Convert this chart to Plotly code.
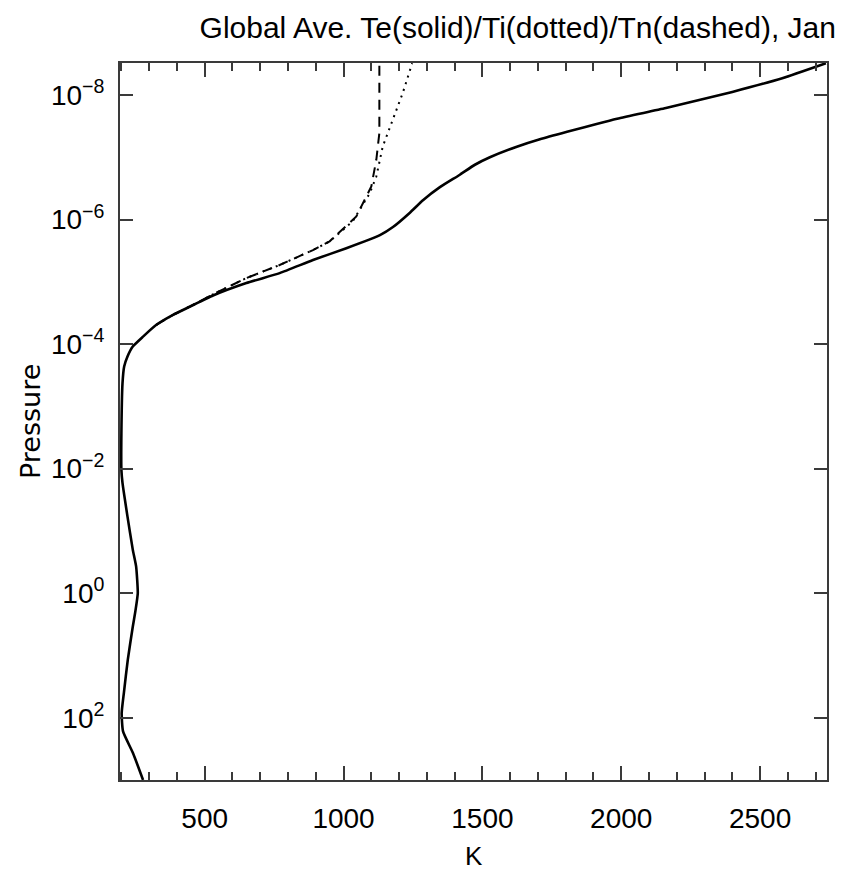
import plotly.graph_objects as go

# ---- data ----
te_K = [2737, 2580, 2400, 2161, 1985, 1805, 1707, 1624, 1527, 1473, 1419, 1347, 1286, 1239, 1178, 1131,
        1010, 890, 770, 650, 530, 446, 386, 326, 278, 241, 222, 210, 204, 200, 200,
        204, 222, 241, 253, 259, 250, 241, 223, 209, 201, 206, 242, 278]
te_logP = [-8.51, -8.27, -8.05, -7.79, -7.62, -7.41, -7.29, -7.17, -7.00, -6.88, -6.72, -6.52, -6.31, -6.11, -5.88, -5.75,
           -5.54, -5.35, -5.14, -4.98, -4.78, -4.60, -4.47, -4.31, -4.12, -3.96, -3.80, -3.64, -3.37, -2.57, -1.98,
           -1.77, -1.23, -0.70, -0.43, 0.0, 0.30, 0.54, 1.07, 1.60, 1.93, 2.22, 2.57, 3.0]

ti_K = [326, 386, 446, 530, 650, 770, 890, 950, 1033, 1094, 1118, 1141, 1177, 1213, 1243, 1247]
ti_logP = [-4.31, -4.47, -4.60, -4.80, -5.06, -5.27, -5.51, -5.65, -5.97, -6.42, -6.69, -7.17,
           -7.60, -8.03, -8.45, -8.51]

tn_K = [326, 386, 446, 530, 650, 770, 890, 950, 1046, 1100, 1118, 1129, 1129, 1129]
tn_logP = [-4.31, -4.47, -4.60, -4.80, -5.06, -5.27, -5.51, -5.65, -6.05, -6.53, -6.96, -7.39,
           -7.85, -8.51]

y_tick_exp = [-8, -6, -4, -2, 0, 2]
x_tick_vals = [500, 1000, 1500, 2000, 2500]

te_P = [10 ** v for v in te_logP]
ti_P = [10 ** v for v in ti_logP]
tn_P = [10 ** v for v in tn_logP]

FONT = "Liberation Sans, Arial, sans-serif"
AX = "#3a3a3a"

fig = go.Figure()
fig.add_trace(go.Scatter(x=tn_K, y=tn_P, mode="lines",
                         line=dict(color="black", width=2, dash="10px,7px"), name="Tn"))
fig.add_trace(go.Scatter(x=ti_K, y=ti_P, mode="lines",
                         line=dict(color="black", width=2, dash="2px,5px"), name="Ti"))
fig.add_trace(go.Scatter(x=te_K, y=te_P, mode="lines", line_shape="spline",
                         line=dict(color="black", width=2.6, smoothing=0.5), name="Te"))

fig.update_layout(
    width=851, height=874,
    margin=dict(l=120, r=24, t=63, b=94),
    paper_bgcolor="white", plot_bgcolor="white",
    showlegend=False,
    font=dict(family=FONT, size=28, color="black"),
    title=dict(text="Global Ave. Te(solid)/Ti(dotted)/Tn(dashed), Jan",
               xref="container", x=836 / 851, xanchor="right",
               yref="container", y=1 - 27 / 874, yanchor="middle",
               font=dict(family=FONT, size=30, color="black")),
)

fig.update_xaxes(
    range=[195, 2741], showgrid=False, zeroline=False,
    showline=True, linecolor=AX, linewidth=2, mirror="ticks",
    ticks="inside", ticklen=14, tickwidth=2, tickcolor=AX,
    tickvals=x_tick_vals, ticktext=[str(v) for v in x_tick_vals],
    ticklabelstandoff=12,
    minor=dict(dtick=100, tick0=0, ticks="inside", ticklen=8, tickwidth=2, tickcolor=AX),
    tickfont=dict(family=FONT, size=28, color="black"),
)
fig.update_yaxes(
    type="log", range=[3.0, -8.514], showgrid=False, zeroline=False,
    showline=True, linecolor=AX, linewidth=2, mirror="ticks",
    ticks="inside", ticklen=13, tickwidth=2, tickcolor=AX,
    tickvals=[10 ** e for e in y_tick_exp],
    ticktext=["10<sup>" + (str(e).replace("-", "\u2212")) + "</sup>" for e in y_tick_exp],
    ticklabelstandoff=8,
    tickfont=dict(family=FONT, size=28, color="black"),
)

fig.add_annotation(text="Pressure", xref="paper", yref="paper",
                   x=(31 - 120) / 707, y=(780 - 422) / 717, textangle=-90,
                   showarrow=False, xanchor="center", yanchor="middle",
                   font=dict(family="DejaVu Sans, sans-serif", size=27, color="black"))
fig.add_annotation(text="K", xref="paper", yref="paper",
                   x=0.5, y=-(856 - 780) / 717,
                   showarrow=False, xanchor="center", yanchor="middle",
                   font=dict(family=FONT, size=26, color="black"))

fig.write_html("out.html")
